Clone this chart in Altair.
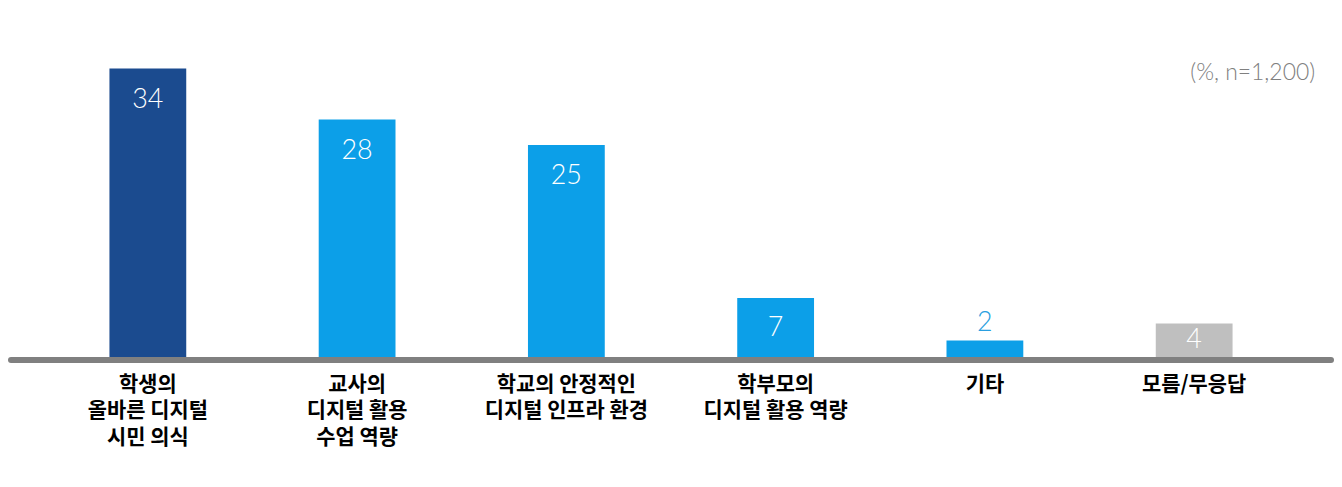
import altair as alt
import pandas as pd

categories = ["학생의\n올바른 디지털\n시민 의식", "교사의\n디지털 활용\n수업 역량",
              "학교의 안정적인\n디지털 인프라 환경", "학부모의\n디지털 활용 역량",
              "기타", "모름/무응답"]
values = [34, 28, 25, 7, 2, 4]
colors = ["#1b4b8f", "#0c9fe8", "#0c9fe8", "#0c9fe8", "#0c9fe8", "#bfbfbf"]
note = "(%, n=1,200)"

df = pd.DataFrame({"cat": categories, "value": values})

W, H = 1330, 350
ymax = 41.0

x = alt.X("cat:N", sort=categories,
          scale=alt.Scale(paddingInner=0.633, paddingOuter=0.48),
          axis=alt.Axis(title=None, domain=False, ticks=False, labelAngle=0,
                        labelExpr="split(datum.label, '\\n')",
                        labelFont="Noto Sans CJK KR", labelFontWeight="bold",
                        labelFontSize=21, labelColor="#000000",
                        labelLineHeight=26.5, labelPadding=16, labelBaseline="top"))
y = alt.Y("value:Q", scale=alt.Scale(domain=[0, ymax], nice=False),
          axis=None)

base = alt.Chart(df)

bars = base.mark_bar().encode(
    x=x, y=y,
    color=alt.Color("cat:N", scale=alt.Scale(domain=categories, range=colors), legend=None),
)

baseline = base.transform_filter("datum.value == 34").mark_rule(
    color="#808080", strokeWidth=6, strokeCap="round", yOffset=2.5
).encode(x=alt.value(2), x2=alt.value(W - 2), y=alt.datum(0))

labels = base.transform_calculate(
    ly="datum.value >= 3 ? max(datum.value - 3.65, datum.value / 2) : datum.value + 2.1"
).mark_text(font="Lato", fontWeight=300, fontSize=27, baseline="middle", align="center").encode(
    x=alt.X("cat:N", sort=categories),
    y=alt.Y("ly:Q"),
    color=alt.condition("datum.value < 3", alt.value("#2a9fe0"), alt.value("#ffffff")),
    text=alt.Text("value:Q"),
)

note_layer = base.transform_filter("datum.value == 34").mark_text(
    font="Lato", fontWeight=300, fontSize=23, color="#808080", align="right", baseline="middle"
).encode(x=alt.value(W - 18), y=alt.value(64), text=alt.value(note))

chart = alt.layer(bars, baseline, labels, note_layer).resolve_scale(color="independent").properties(
    width=W, height=H, padding={"left": 0, "top": 0, "right": 0, "bottom": 30}
).configure_view(stroke=None)

chart.save("out.html", embed_options={"renderer": "svg", "actions": False})
